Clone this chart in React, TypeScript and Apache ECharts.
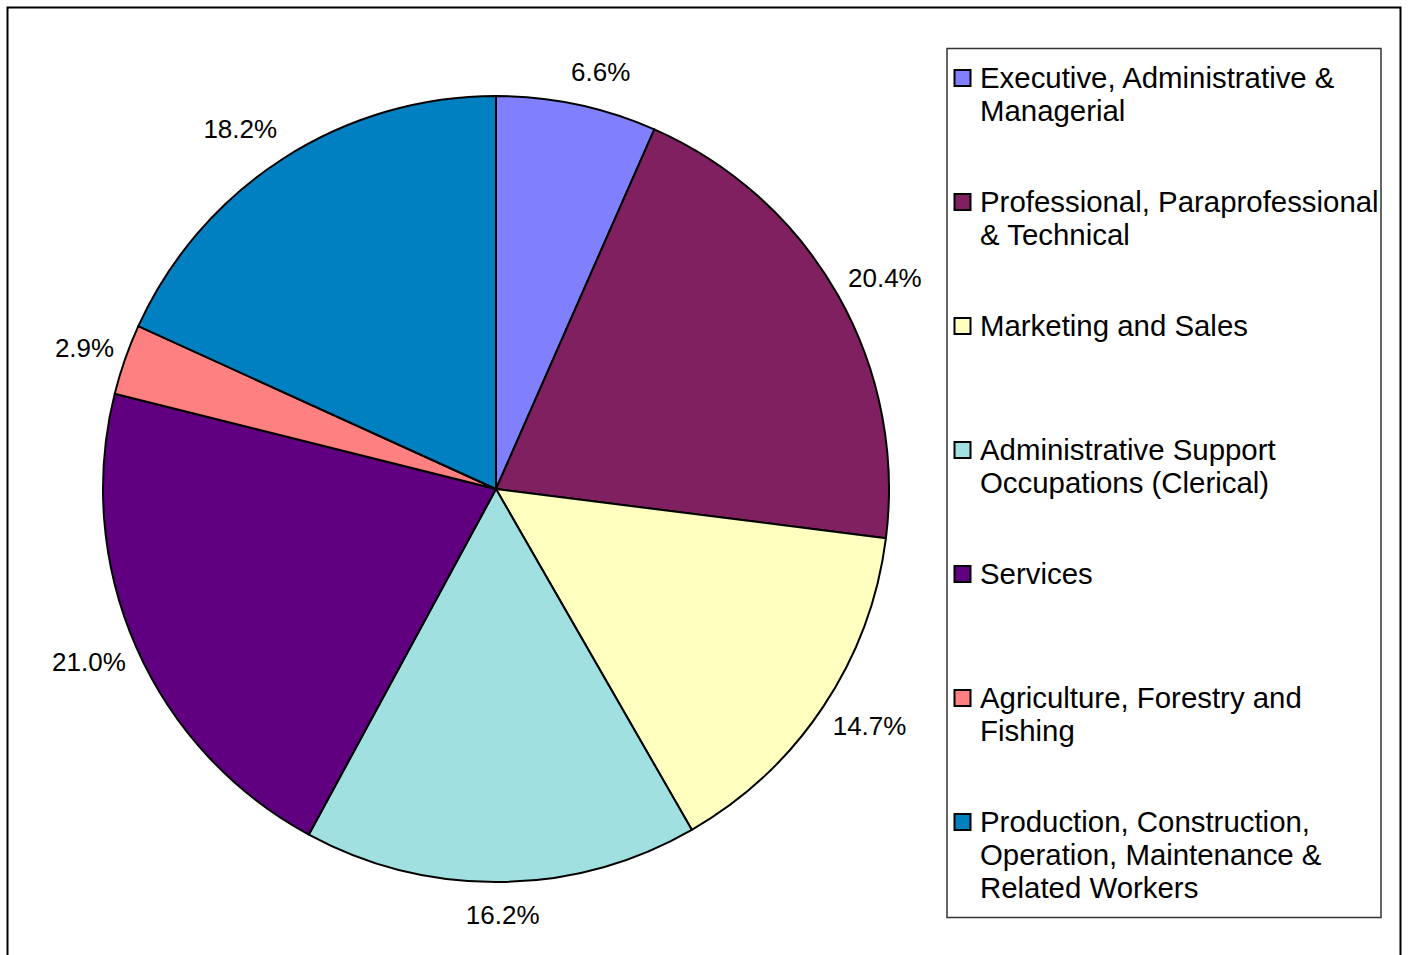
import React, { useEffect, useRef } from "react";
import * as echarts from "echarts";

const categories = [
  "Executive, Administrative &\nManagerial",
  "Professional, Paraprofessional\n& Technical",
  "Marketing and Sales",
  "Administrative Support\nOccupations (Clerical)",
  "Services",
  "Agriculture, Forestry and\nFishing",
  "Production, Construction,\nOperation, Maintenance &\nRelated Workers",
];
const values = [6.6, 20.4, 14.7, 16.2, 21.0, 2.9, 18.2];
const colors = ["#8080FF", "#802060", "#FFFFC0", "#A0E0E0", "#600080", "#FF8080", "#0080C0"];

const FONT = "'Liberation Sans', Arial, Helvetica, sans-serif";
const CX = 496;
const CY = 489;
const R = 393;
const LABEL_FONT = 26;
const LABEL_GAP = 11.5;
const LABEL_HALF_H = 21.5;

function measure(text: string, size: number): number {
  const c = document.createElement("canvas").getContext("2d");
  if (!c) return text.length * size * 0.56;
  c.font = `${size}px ${FONT}`;
  return c.measureText(text).width;
}

function soft(t: number, k: number): number {
  return Math.sign(t) * Math.min(1, Math.abs(t) * k);
}

export default function App() {
  const ref = useRef<HTMLDivElement>(null);
  useEffect(() => {
    if (!ref.current) return;
    const chart = echarts.init(ref.current, undefined, { renderer: "svg" });
    const total = values.reduce((a, b) => a + b, 0);

    const labelGraphics: any[] = [];
    let acc = 0;
    values.forEach((v) => {
      const a = ((acc + v / 2) / total) * Math.PI * 2;
      acc += v;
      const text = v.toFixed(1) + "%";
      const w = measure(text, LABEL_FONT);
      const ux = Math.sin(a);
      const uy = -Math.cos(a);
      const base = R + LABEL_GAP;
      labelGraphics.push({
        type: "text",
        x: CX + ux * base + (w / 2) * soft(ux, 3.5),
        y: CY + uy * base + LABEL_HALF_H * soft(uy, 1.1),
        style: {
          text,
          fontSize: LABEL_FONT,
          fontFamily: FONT,
          fill: "#000",
          align: "center",
          verticalAlign: "middle",
        },
        z: 5,
      });
    });

    const legendGraphics: any[] = [
      {
        type: "rect",
        shape: { x: 947, y: 48.5, width: 434, height: 869 },
        style: { fill: "#fff", stroke: "#333", lineWidth: 1.5 },
        z: 0,
      },
    ];
    categories.forEach((c, i) => {
      const top = 124 * i;
      legendGraphics.push({
        type: "rect",
        shape: { x: 954.5, y: 70 + top, width: 16, height: 16 },
        style: { fill: colors[i], stroke: "#000", lineWidth: 2 },
        z: 1,
      });
      legendGraphics.push({
        type: "text",
        x: 980,
        y: 61 + top,
        style: {
          text: c,
          fontSize: 29.4,
          lineHeight: 33,
          fontFamily: FONT,
          fill: "#000",
          align: "left",
          verticalAlign: "top",
        },
        z: 1,
      });
    });

    chart.setOption({
      animation: false,
      backgroundColor: "#fff",
      graphic: [
        {
          type: "rect",
          shape: { x: 7.5, y: 7.5, width: 1393, height: 1000 },
          style: { fill: "none", stroke: "#000", lineWidth: 2 },
          z: -1,
        },
        ...legendGraphics,
        ...labelGraphics,
      ],
      series: [
        {
          type: "pie",
          center: [CX, CY],
          radius: R,
          startAngle: 90,
          clockwise: true,
          data: categories.map((c, i) => ({
            name: c,
            value: values[i],
            itemStyle: { color: colors[i] },
          })),
          itemStyle: { borderColor: "#000", borderWidth: 2 },
          label: { show: false },
          labelLine: { show: false },
          emphasis: { disabled: true },
        },
      ],
    });
    return () => chart.dispose();
  }, []);
  return (
    <div
      ref={ref}
      style={{ position: "fixed", left: 0, top: 0, width: 1408, height: 955 }}
    />
  );
}
